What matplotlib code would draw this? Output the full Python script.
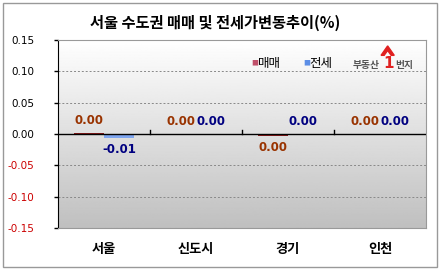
import numpy as np
import matplotlib.pyplot as plt
from matplotlib.patches import Rectangle, Polygon

plt.rcParams['font.family'] = ['Noto Sans CJK KR', 'DejaVu Sans']

# data
regions = ['서울', '신도시', '경기', '인천']
sale = [0.0015, 0.0005, -0.003, 0.0005]      # 매매
jeonse = [-0.006, 0.0, 0.0005, 0.0]          # 전세
sale_labels = ['0.00', '0.00', '0.00', '0.00']
jeonse_labels = ['-0.01', '0.00', '0.00', '0.00']
yticks = [-0.15, -0.10, -0.05, 0.00, 0.05, 0.10, 0.15]

fig = plt.figure(figsize=(4.4, 2.7), dpi=100)
fig.patches.append(Rectangle((0.006, 0.012), 0.988, 0.978, transform=fig.transFigure,
                             fill=False, edgecolor='#999999', linewidth=1))

ax = fig.add_axes([0.132, 0.156, 0.836, 0.696])
x = np.arange(len(regions))
w = 0.33

# gradient background, white at top to grey at bottom
grad = np.linspace(1, 0, 256).reshape(-1, 1)
ax.imshow(grad, extent=[-0.5, 3.5, -0.15, 0.15], aspect='auto', cmap='gray',
          vmin=-3.0, vmax=1.0, zorder=0)

ax.bar(x - w / 2, sale, w, color='#8B1A1A', zorder=3)
ax.bar(x + w / 2, jeonse, w, color='#7FA6F0', zorder=3)

for i in range(len(regions)):
    v = sale[i]
    ax.annotate(sale_labels[i], (x[i] - w / 2, v), xytext=(0, 4 if v >= 0 else -4),
                textcoords='offset points', ha='center', va='bottom' if v >= 0 else 'top',
                color='#993300', fontsize=8.5, fontweight='bold', family='DejaVu Sans', zorder=4)
    v = jeonse[i]
    ax.annotate(jeonse_labels[i], (x[i] + w / 2, v), xytext=(0, 4 if v >= 0 else -4),
                textcoords='offset points', ha='center', va='bottom' if v >= 0 else 'top',
                color='#000080', fontsize=8.5, fontweight='bold', family='DejaVu Sans', zorder=4)

ax.set_xlim(-0.5, 3.5)
ax.set_ylim(-0.15, 0.15)
ax.set_yticks(yticks)
ax.set_yticklabels(['%.2f' % t for t in yticks], fontsize=7.5, family='DejaVu Sans')
for lab, t in zip(ax.get_yticklabels(), yticks):
    if t < 0:
        lab.set_color('#CC0000')
ax.tick_params(axis='y', length=3, width=1, pad=14)
ax.set_xticks(x)
ax.set_xticklabels(regions, fontsize=9.5, fontweight='bold')
ax.tick_params(axis='x', length=0, pad=10)

for t in [-0.10, -0.05, 0.05, 0.10]:
    ax.axhline(t, color='#888888', linestyle=(0, (2, 2)), linewidth=0.7, zorder=1)
ax.axhline(0, color='black', linewidth=1, zorder=5)
for b in [0.5, 1.5, 2.5]:
    ax.plot([b, b], [0, 0.006], color='black', linewidth=1, zorder=5)

for s in ['top', 'right', 'bottom']:
    ax.spines[s].set_color('#999999')
    ax.spines[s].set_linewidth(0.8)
ax.spines['left'].set_color('black')

fig.text(0.49, 0.915, '서울 수도권 매매 및 전세가변동추이(%)', ha='center', va='center',
         fontsize=11, fontweight='bold')

# legend
fig.text(0.572, 0.765, '■', color='#C0506A', fontsize=5, va='center')
fig.text(0.586, 0.765, '매매', fontsize=9, va='center')
fig.text(0.69, 0.765, '■', color='#5C8EE6', fontsize=5, va='center')
fig.text(0.704, 0.765, '전세', fontsize=9, va='center')

# logo
fig.text(0.802, 0.758, '부동산', color='#555555', fontsize=7, fontweight='bold', va='center')
fig.text(0.871, 0.763, '1', color='#E02020', fontsize=11, fontweight='bold', va='center',
         family='DejaVu Sans')
fig.text(0.898, 0.758, '번지', color='#555555', fontsize=7, fontweight='bold', va='center')
fig.patches.append(Polygon([(0.866, 0.795), (0.881, 0.83), (0.896, 0.795), (0.889, 0.795),
                            (0.881, 0.813), (0.873, 0.795)], closed=True,
                           transform=fig.transFigure, color='#E02020'))

fig.savefig('out.png', dpi=100)
